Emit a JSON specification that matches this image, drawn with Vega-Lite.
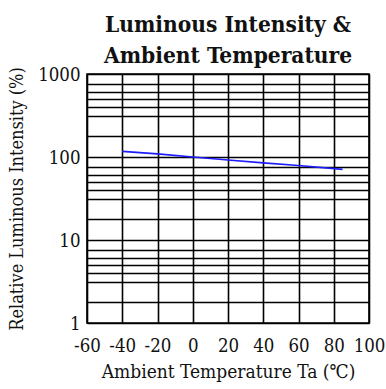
{
  "$schema": "https://vega.github.io/schema/vega-lite/v6.json",
  "width": 282,
  "height": 249,
  "autosize": {"type": "none"},
  "padding": {"left": 87, "top": 74, "right": 17, "bottom": 66},
  "background": "white",
  "title": {
    "text": ["Luminous Intensity &", "Ambient Temperature"],
    "font": "DejaVu Serif Condensed",
    "fontSize": 22.5,
    "fontWeight": "bold",
    "lineHeight": 31,
    "anchor": "middle",
    "color": "#111111",
    "offset": -2
  },
  "config": {
    "view": {"stroke": "black", "strokeWidth": 1.6},
    "axis": {
      "domain": false,
      "ticks": false,
      "grid": true,
      "gridColor": "black",
      "gridWidth": 1.6,
      "gridOpacity": 1,
      "labelOverlap": false,
      "labelFlush": false,
      "labelFont": "DejaVu Serif Condensed",
      "labelFontSize": 18.5,
      "labelColor": "#111111",
      "titleFont": "DejaVu Serif Condensed",
      "titleFontSize": 18,
      "titleFontWeight": "normal",
      "titleColor": "#111111"
    }
  },
  "data": {
    "values": [
      {"ta": -40, "iv": 117},
      {"ta": -20, "iv": 109},
      {"ta": 0, "iv": 100},
      {"ta": 20, "iv": 92},
      {"ta": 40, "iv": 85},
      {"ta": 60, "iv": 79},
      {"ta": 85, "iv": 71}
    ]
  },
  "mark": {"type": "line", "color": "#1c1cff", "strokeWidth": 1.6},
  "encoding": {
    "x": {
      "field": "ta",
      "type": "quantitative",
      "scale": {"domain": [-60, 100], "nice": false, "zero": false},
      "axis": {
        "values": [-60, -40, -20, 0, 20, 40, 60, 80, 100],
        "labelExpr": "'' + datum.value",
        "labelPadding": 13,
        "title": "Ambient Temperature Ta (℃)",
        "titleFontSize": 19,
        "titlePadding": 8
      }
    },
    "y": {
      "field": "iv",
      "type": "quantitative",
      "scale": {"type": "log", "domain": [1, 1000], "nice": false},
      "axis": {
        "values": [1, 1.8, 3.15, 4, 5, 6.1, 7.6, 10, 18, 31.5, 40, 50, 61, 76, 100, 180, 315, 400, 500, 610, 760, 1000],
        "labelExpr": "indexof([1, 10, 100, 1000], datum.value) >= 0 ? '' + datum.value : ''",
        "labelPadding": 7,
        "title": "Relative Luminous Intensity (%)",
        "titlePadding": 11
      }
    }
  }
}
